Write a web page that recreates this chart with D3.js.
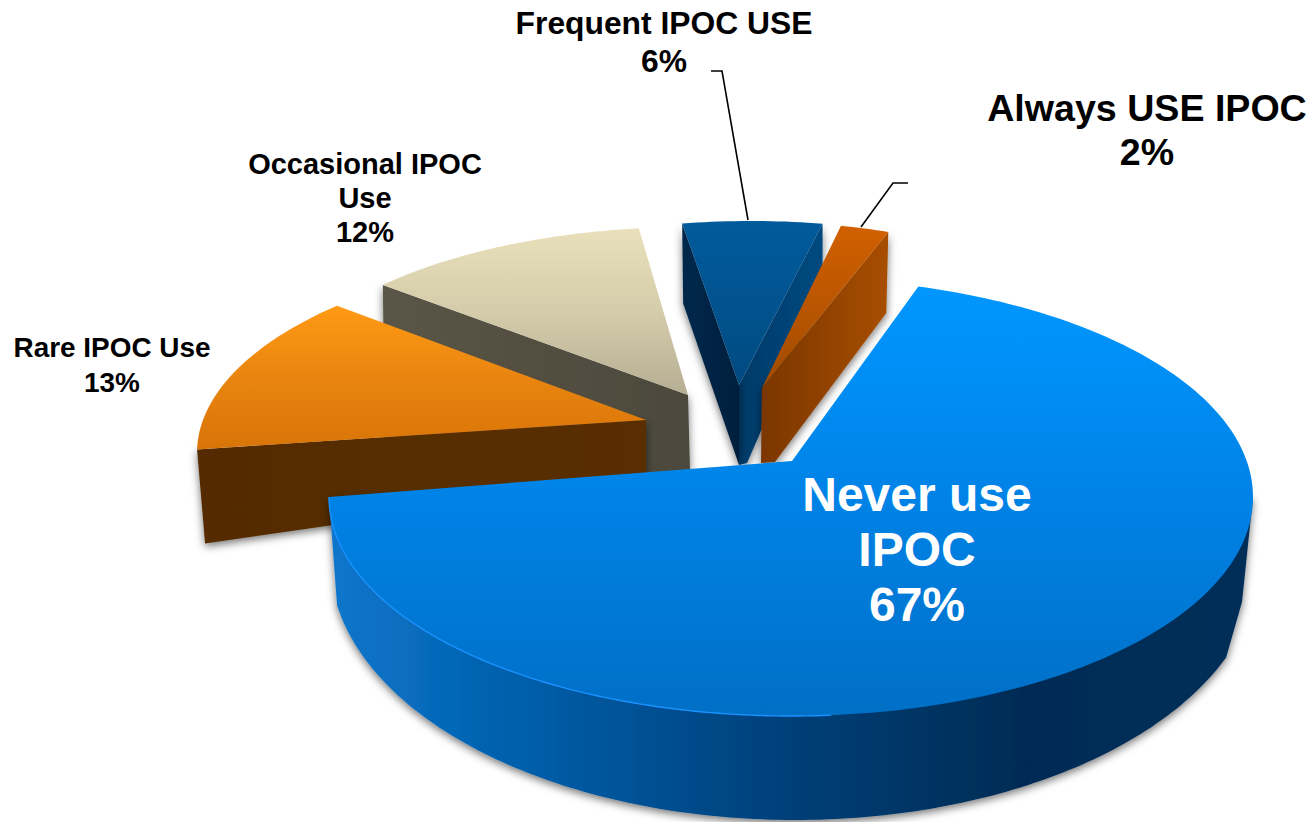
<!DOCTYPE html>
<html>
<head>
<meta charset="utf-8">
<script src="https://cdn.jsdelivr.net/npm/d3@7"></script>
<style>
html,body{margin:0;padding:0;background:#fff;overflow:hidden}
svg{display:block}
text{font-family:"Liberation Sans",Arial,sans-serif;font-weight:700;text-anchor:middle}
</style>
</head>
<body>
<svg id="chart" width="1312" height="822"></svg>
<script>
// ---- data ----
const categories = ["Never use IPOC","Rare IPOC Use","Occasional IPOC Use","Frequent IPOC USE","Always USE IPOC"];
const values = [67,13,12,6,2];
const labelLines = [["Never use","IPOC"],["Rare IPOC Use"],["Occasional IPOC","Use"],["Frequent IPOC USE"],["Always USE IPOC"]];

// ---- layout (perspective of the picture, per slice) ----
const rad = d => d*Math.PI/180;
const geometry = [
  {cx:791,cy:497,rx:462,ry:219,start:16,  stretch:1.053,apex:[792,461]},
  {cx:657,cy:453,rx:460,ry:205,start:271, stretch:0.96, apex:[646,420]},
  {cx:690,cy:409,rx:420,ry:182,start:313, stretch:0.926,apex:[688,395]},
  {cx:751,cy:421,rx:440,ry:200,start:351, stretch:0.85, apex:[739,385]},
  {cx:745,cy:421,rx:440,ry:200,start:12.6,stretch:0.89, apex:[762,388]}
];
const walls = [
  [],
  [{rim:"start",rimDrop:[8,94],apexDrops:[[0,60]],fill:"wallRare"}],
  [{rim:"start",rimDrop:[2,150],apexDrops:[[-45,85],[2,75]],fill:"wallOcc"}],
  [{rim:"end",rimDrop:[0,66],apexDrops:[[8,78],[0,80]],fill:"wallFreqR"},
   {rim:"start",rimDrop:[1,80],apexDrops:[[0,80]],fill:"wallFreqL"}],
  [{rim:"end",rimDrop:[-2,81],apexDrops:[[13,74],[-1,75]],fill:"wallAlways"}]
];
const gradients = [
  {id:"faceNever",v:true,stops:["#0097ff","#0082e6","#006fc6"]},
  {id:"faceRare",v:true,stops:["#ff9a14","#e98510","#d97408"]},
  {id:"faceOcc",v:true,stops:["#e9e0bb","#d4ccaa","#b5ae93"]},
  {id:"faceFreq",v:true,stops:["#015a9c","#01538f","#014a80"]},
  {id:"faceAlways",v:true,stops:["#d26000","#b95500","#a04a00"]},
  {id:"wallNever",v:false,stops:["#0b76cc","#005aa3","#003f78","#002c55","#002e58"]},
  {id:"wallRare",v:false,stops:["#542c03","#5a2e00"]},
  {id:"wallOcc",v:false,stops:["#5a5546","#4c493c"]},
  {id:"wallFreqL",v:false,stops:["#00284b","#001f3d"]},
  {id:"wallFreqR",v:false,stops:["#013a68","#044a80"]},
  {id:"wallAlways",v:false,stops:["#7a3600","#a84e00"]}
];
const faceFills = ["faceNever","faceRare","faceOcc","faceFreq","faceAlways"];
const lowerRim = {cx:795,cy:560,rx:465,ry:260,from:112,to:260,shoulder:[-11,105]};
const leaders = [
  {slice:3,pts:[[711,71],[722,71],[748,220]]},
  {slice:4,pts:[[908,183],[893,183],[861,227]]}
];
const labelStyle = [
  {x:917,y:511,size:48,lead:55,fill:"#fff"},
  {x:112,y:357,size:27.9,lead:35,fill:"#000"},
  {x:365,y:174,size:29,lead:34,fill:"#000"},
  {x:664,y:34,size:31.8,lead:38,fill:"#000"},
  {x:1147,y:121,size:37.6,lead:44,fill:"#000"}
];
// draw order: back to front
const drawOrder = [2,1,3,4,0];

// ---- build ----
const svg = d3.select("#chart");
const defs = svg.append("defs");
gradients.forEach(g=>{
  const lg = defs.append("linearGradient").attr("id",g.id)
    .attr("x1",0).attr("y1",0).attr("x2",g.v?0:1).attr("y2",g.v?1:0);
  g.stops.forEach((c,i)=>lg.append("stop").attr("offset",i/(g.stops.length-1)).attr("stop-color",c));
});
const f = defs.append("filter").attr("id","shadow")
  .attr("x","-15%").attr("y","-15%").attr("width","130%").attr("height","130%");
f.append("feDropShadow").attr("dx",0).attr("dy",3).attr("stdDeviation",4)
  .attr("flood-color","#000").attr("flood-opacity",0.55);

const pie = d3.pie().sort(null).startAngle(0).endAngle(2*Math.PI);
const arcs = pie(values);
const line = d3.line();
const ellipsePoint = (g,deg)=>[g.cx+g.rx*Math.sin(rad(deg)), g.cy-g.ry*Math.cos(rad(deg))];
const rimPoints = (g,a0,a1)=>{
  const n = Math.max(8,Math.ceil(Math.abs(a1-a0)));
  const t = d3.scaleLinear().domain([0,n]).range([a0,a1]);
  return d3.range(n+1).map(i=>ellipsePoint(g,t(i)));
};
const add = (p,d)=>[p[0]+d[0],p[1]+d[1]];

const slices = arcs.map((a,i)=>{
  const g = geometry[i];
  const sweep = (a.endAngle-a.startAngle)*180/Math.PI*g.stretch;
  return {i,g,a0:g.start,a1:g.start+sweep};
});

const layer = svg.append("g");
drawOrder.forEach(i=>{
  const s = slices[i], g = s.g;
  const grp = layer.append("g").attr("class","slice").attr("data-category",categories[i]);
  if(i===0){
    const lower = rimPoints(lowerRim,lowerRim.from,lowerRim.to);
    const right = ellipsePoint(g,90);
    const poly = [right,add(right,lowerRim.shoulder),...lower,ellipsePoint(g,270)];
    grp.append("path").attr("d",line(poly)+"Z").attr("fill","url(#wallNever)").attr("filter","url(#shadow)");
  }
  walls[i].forEach(w=>{
    const rim = ellipsePoint(g,w.rim==="start"?s.a0:s.a1);
    const poly = [g.apex,rim,add(rim,w.rimDrop),...w.apexDrops.map(d=>add(g.apex,d))];
    grp.append("path").attr("d",line(poly)+"Z").attr("fill",`url(#${w.fill})`).attr("filter","url(#shadow)");
  });
  grp.append("path").attr("d",line([g.apex,...rimPoints(g,s.a0,s.a1)])+"Z").attr("fill",`url(#${faceFills[i]})`);
  if(i===0){
    grp.append("path").attr("d",line(rimPoints(g,175,s.a1))).attr("fill","none")
      .attr("stroke","#1a93ff").attr("stroke-width",1.4);
  }
});

svg.append("g").selectAll("path").data(leaders).join("path")
  .attr("d",d=>line(d.pts)).attr("fill","none").attr("stroke","#000").attr("stroke-width",1.6);

const lg = svg.append("g");
values.forEach((v,i)=>{
  const st = labelStyle[i];
  const lines = [...labelLines[i],v+"%"];
  lg.selectAll(null).data(lines).join("text")
    .attr("x",st.x).attr("y",(d,k)=>st.y+k*st.lead)
    .attr("font-size",st.size).attr("fill",st.fill).text(d=>d);
});
</script>
</body>
</html>
